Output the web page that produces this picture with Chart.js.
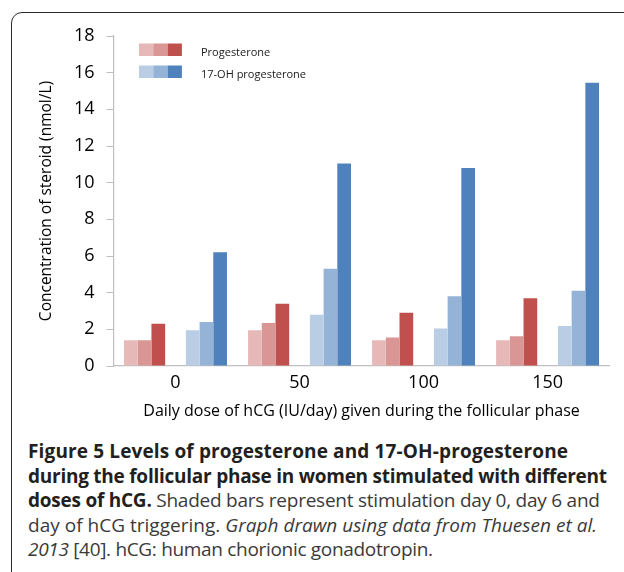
<!DOCTYPE html>
<html>
<head>
<meta charset="utf-8">
<script src="https://cdn.jsdelivr.net/npm/chart.js@4"></script>
<style>
  html, body { margin: 0; padding: 0; background: #fff; }
  body { width: 624px; height: 572px; position: relative; overflow: hidden; }
  #frame { position: absolute; left: 11px; top: 12px; width: 640px; height: 600px;
           border: 1.6px solid #2b2b2b; border-radius: 11px; box-sizing: border-box; }
  #wrap { position: absolute; left: 0; top: 0; width: 624px; height: 430px; }
  #caption { position: absolute; left: 28px; top: 439px; font-family: "Open Sans", sans-serif;
             font-size: 19px; line-height: 24.5px; color: #3a3a3a; white-space: nowrap; }
  #caption .line { display: block; width: max-content; }
  #caption b { font-weight: 700; color: #231f20; }
</style>
</head>
<body>
<div id="frame"></div>
<div id="wrap"><canvas id="c" width="624" height="430"></canvas></div>
<div id="caption">
  <div class="line" data-right="568"><b>Figure 5 Levels of progesterone and 17-OH-progesterone</b></div>
  <div class="line" data-right="607"><b>during the follicular phase in women stimulated with different</b></div>
  <div class="line" data-right="600"><b>doses of hCG.</b> Shaded bars represent stimulation day 0, day 6 and</div>
  <div class="line" data-right="597">day of hCG triggering. <i>Graph drawn using data from Thuesen et al.</i></div>
  <div class="line" data-right="433"><i>2013</i> [40]. hCG: human chorionic gonadotropin.</div>
</div>
<script>
// ---- data ----
const categories = ['0', '50', '100', '150'];
const progDay0   = [1.40, 1.95, 1.40, 1.40];
const progDay6   = [1.40, 2.35, 1.55, 1.62];
const progHcg    = [2.30, 3.40, 2.90, 3.70];
const ohpDay0    = [1.95, 2.80, 2.05, 2.18];
const ohpDay6    = [2.40, 5.30, 3.80, 4.10];
const ohpHcg     = [6.20, 11.05, 10.80, 15.45];
const yMin = 0, yMax = 18, yStep = 2;
const legendLabels = ['Progesterone', '17-OH progesterone'];

const pinkColors = ['#E6B9B8', '#D99694', '#C0504D'];
const blueColors = ['#B9CDE5', '#95B3D7', '#4F81BD'];

// Bar layout within a category (fractions of the category width):
// three touching red bars, a gap of 1.5 bar widths, three touching blue bars.
const BAR_FRAC = 0.1105, GAP_FRAC = 0.167, N_SERIES = 6;
function slotOptions(i) {
  const side = i < 3 ? -1 : 1;
  const k = i < 3 ? 2 - i : i - 3;              // distance from the central gap, in bars
  const offset = side * (GAP_FRAC / 2 + (k + 0.5) * BAR_FRAC);
  const factor = (i + 0.5) / N_SERIES - 0.5;
  const cp = offset / factor;
  return { categoryPercentage: cp, barPercentage: BAR_FRAC * N_SERIES / cp };
}
const ds = (i, label, data, color) =>
  Object.assign({ label, data, backgroundColor: color, borderWidth: 0 }, slotOptions(i));

const legendPlugin = {
  id: 'blockLegend',
  afterDraw(chart) {
    const ctx = chart.ctx;
    const rows = [
      { colors: pinkColors, label: legendLabels[0], y: 43.5 },
      { colors: blueColors, label: legendLabels[1], y: 65.5 }
    ];
    const x0 = 139, w = 14.3, h = 12.5;
    ctx.save();
    rows.forEach(r => {
      r.colors.forEach((c, i) => { ctx.fillStyle = c; ctx.fillRect(x0 + i * w, r.y, w, h); });
      ctx.fillStyle = '#1a1a1a';
      ctx.font = '11px "Open Sans", sans-serif';
      ctx.textBaseline = 'alphabetic';
      ctx.fillText(r.label, 201, r.y + 12.5);
    });
    ctx.restore();
  }
};

const font = '"Open Sans", sans-serif';
new Chart(document.getElementById('c'), {
  type: 'bar',
  data: {
    labels: categories,
    datasets: [
      ds(0, 'Progesterone day 0', progDay0, pinkColors[0]),
      ds(1, 'Progesterone day 6', progDay6, pinkColors[1]),
      ds(2, 'Progesterone hCG day', progHcg, pinkColors[2]),
      ds(3, '17-OH progesterone day 0', ohpDay0, blueColors[0]),
      ds(4, '17-OH progesterone day 6', ohpDay6, blueColors[1]),
      ds(5, '17-OH progesterone hCG day', ohpHcg, blueColors[2])
    ]
  },
  options: {
    responsive: false,
    animation: false,
    layout: { padding: { left: 37, right: 14.4, top: 36, bottom: 2 } },
    plugins: { legend: { display: false }, tooltip: { enabled: false } },
    scales: {
      x: {
        grid: { display: false, drawTicks: false },
        border: { display: true, color: '#BFBFBF', width: 1.2 },
        ticks: { color: '#000', font: { family: font, size: 18 }, padding: 6 },
        title: { display: true, text: 'Daily dose of hCG (IU/day) given during the follicular phase',
                 color: '#000', font: { family: font, size: 16 }, padding: { top: 0, bottom: 6.5 } },
        afterFit(s) { s.height = 62; }
      },
      y: {
        min: yMin, max: yMax,
        grid: { display: true, drawOnChartArea: false, drawTicks: true, tickLength: 7, color: '#BFBFBF' },
        border: { display: true, color: '#BFBFBF', width: 1.2 },
        ticks: { stepSize: yStep, color: '#000', font: { family: font, size: 18 }, padding: 12 },
        title: { display: true, text: 'Concentration of steroid (nmol/L)',
                 color: '#000', font: { family: font, size: 15.5 }, padding: 0 },
        afterFit(s) { s.width = 113.5 - 37; }
      }
    }
  },
  plugins: [legendPlugin]
});

// fit caption lines to the reference line lengths
document.querySelectorAll('#caption .line').forEach(el => {
  const left = el.getBoundingClientRect().left;
  const target = parseFloat(el.dataset.right) - left;
  const actual = el.getBoundingClientRect().width;
  const n = el.textContent.length - 1;
  el.style.letterSpacing = ((target - actual) / n) + 'px';
});
</script>
</body>
</html>
